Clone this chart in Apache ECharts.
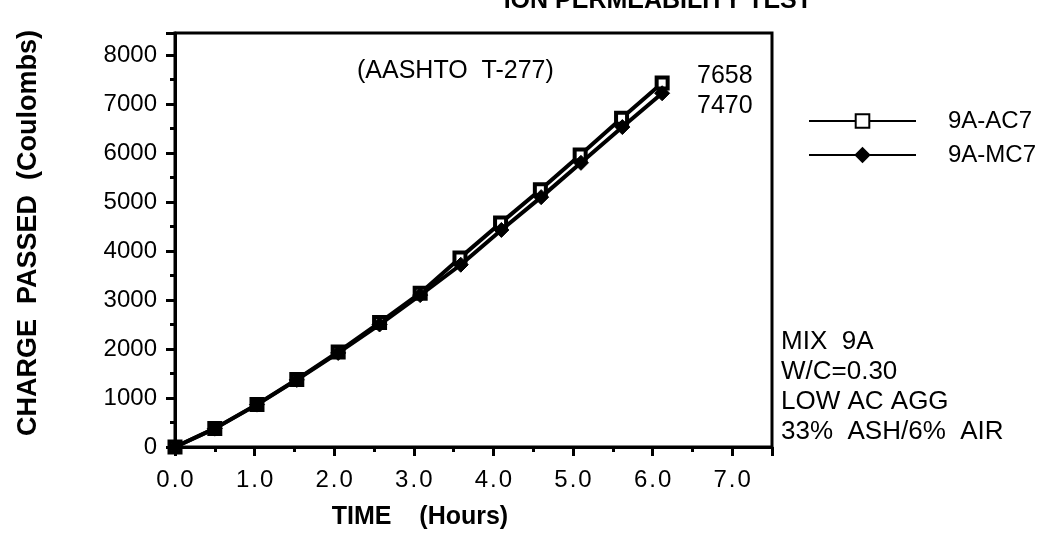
<!DOCTYPE html>
<html>
<head>
<meta charset="utf-8">
<script src="https://cdn.jsdelivr.net/npm/echarts@6/dist/echarts.min.js"></script>
<style>
html,body{margin:0;padding:0;background:#fff;}
#chart{width:1044px;height:549px;}
</style>
</head>
<body>
<div id="chart"></div>
<script>
// Time (hours) at each reading
const timeAC = [0, 0.5, 1.03, 1.53, 2.05, 2.57, 3.08, 3.58, 4.09, 4.59, 5.09, 5.61, 6.12];
const timeMC = [0, 0.5, 1.03, 1.53, 2.05, 2.57, 3.08, 3.59, 4.10, 4.60, 5.10, 5.62, 6.12];
// Charge passed (Coulombs)
const chargeAC = [0, 380, 870, 1380, 1940, 2540, 3140, 3860, 4570, 5250, 5960, 6710, 7430];
const chargeMC = [0, 375, 865, 1370, 1920, 2500, 3100, 3720, 4430, 5100, 5800, 6530, 7220];
const seriesNames = ['9A-AC7', '9A-MC7'];
const xTickLabels = ['0.0','1.0','2.0','3.0','4.0','5.0','6.0','7.0'];
const yTickLabels = ['0','1000','2000','3000','4000','5000','6000','7000','8000'];
const finalLabels = ['7658', '7470'];
const mixNotes = ['MIX  9A', 'W/C=0.30', 'LOW AC AGG', '33%  ASH/6%  AIR'];

const FONT = '"Liberation Sans", Arial, Helvetica, sans-serif';
const chart = echarts.init(document.getElementById('chart'));

const pairs = (xs, ys) => xs.map((x, i) => [x, ys[i]]);

const noteGraphics = mixNotes.map((t, i) => ({
  type: 'text', left: 781, top: 329 + i * 30,
  style: { text: t, font: '26px ' + FONT, fill: '#000' }
}));

chart.setOption({
  animation: false,
  backgroundColor: '#fff',
  grid: { left: 175, right: 272, top: 33, bottom: 102, show: true, borderColor: '#000', borderWidth: 3, backgroundColor: 'transparent' },
  xAxis: {
    type: 'value', min: 0, max: 7.5, interval: 1,
    axisLine: { show: true, lineStyle: { color: '#000', width: 3 } },
    axisTick: { show: true, inside: false, length: 9, lineStyle: { color: '#000', width: 3 } },
    minorTick: { show: true, splitNumber: 2, length: 5, lineStyle: { color: '#000', width: 3 } },
    splitLine: { show: false },
    axisLabel: {
      margin: 21, color: '#000', fontFamily: FONT, fontSize: 24, showMaxLabel: false,
      formatter: v => { const i = Math.round(v); return (Math.abs(v - i) < 1e-6 && i < xTickLabels.length) ? xTickLabels[i].split('').join('\u200a') : ''; }
    }
  },
  yAxis: {
    type: 'value', min: 0, max: 8450, interval: 1000,
    axisLine: { show: true, lineStyle: { color: '#000', width: 3 } },
    axisTick: { show: true, inside: false, length: 9, lineStyle: { color: '#000', width: 3 } },
    minorTick: { show: true, splitNumber: 2, length: 5, lineStyle: { color: '#000', width: 3 } },
    splitLine: { show: false },
    axisLabel: {
      margin: 18, color: '#000', fontFamily: FONT, fontSize: 24, showMaxLabel: false,
      formatter: v => { const i = Math.round(v / 1000); return (v % 1000 === 0 && i < yTickLabels.length) ? yTickLabels[i] : ''; }
    }
  },
  legend: {
    orient: 'vertical', left: 803, top: 104,
    itemWidth: 107, itemHeight: 17, itemGap: 10,
    textStyle: { color: '#000', fontFamily: FONT, fontSize: 24, padding: [0, 0, 0, 27] },
    data: [seriesNames[0], seriesNames[1]]
  },
  series: [
    {
      name: seriesNames[0], type: 'line', data: pairs(timeAC, chargeAC),
      symbol: 'rect', symbolSize: 11, z: 2,
      lineStyle: { color: '#000', width: 4 },
      itemStyle: { color: '#fff', borderColor: '#000', borderWidth: 4 }
    },
    {
      name: seriesNames[1], type: 'line', data: pairs(timeMC, chargeMC),
      symbol: 'diamond', symbolSize: 15, z: 3,
      lineStyle: { color: '#000', width: 4 },
      itemStyle: { color: '#000', borderColor: '#000', borderWidth: 1 }
    }
  ],
  graphic: [
    { type: 'text', x: 812, y: -11, style: { text: 'ION PERMEABILITY TEST', font: 'bold 25px ' + FONT, fill: '#000', align: 'right', verticalAlign: 'top' } },
    { type: 'text', left: 357, top: 59, style: { text: '(AASHTO  T-277)', font: '25px ' + FONT, fill: '#000' } },
    { type: 'text', left: 697, top: 64, style: { text: finalLabels[0], font: '25px ' + FONT, fill: '#000' } },
    { type: 'text', left: 697, top: 94, style: { text: finalLabels[1], font: '25px ' + FONT, fill: '#000' } },
    { type: 'text', x: 29, y: 233, rotation: Math.PI / 2,
      style: { text: 'CHARGE  PASSED  (Coulombs)', font: 'bold 27px ' + FONT, fill: '#000', align: 'center', verticalAlign: 'middle' } },
    { type: 'text', x: 420, y: 517,
      style: { text: 'TIME    (Hours)', font: 'bold 25px ' + FONT, fill: '#000', align: 'center', verticalAlign: 'middle' } }
  ].concat(noteGraphics)
});
</script>
</body>
</html>
